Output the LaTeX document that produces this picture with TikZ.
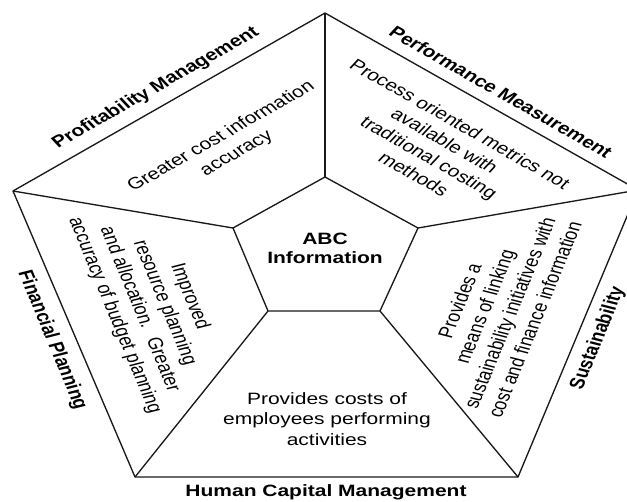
\documentclass[tikz,border=0pt]{standalone}
\usepackage{fontspec}
\setmainfont{Liberation Sans}
\begin{document}
\begin{tikzpicture}[x=0.75pt,y=-0.75pt,
  edge/.style={line width=1pt, line join=round, draw=black!90},
  txt/.style={font=\fontsize{12.3}{15.4}\selectfont, align=center, xscale=1.28, inner sep=0pt},
  lbl/.style={font=\fontsize{12.3}{15}\selectfont\bfseries, align=center, xscale=1.28, inner sep=0pt}]
\useasboundingbox (0,0) rectangle (627,502);
\clip (0,0) rectangle (627,502);
\fill[white] (0,0) rectangle (627,502);
% outer vertices
\coordinate (o1) at (325,13);
\coordinate (o2) at (638,190);
\coordinate (o3) at (518,477);
\coordinate (o4) at (135,477);
\coordinate (o5) at (13,191);
% inner vertices
\coordinate (i1) at (325,177);
\coordinate (i2) at (418,228);
\coordinate (i3) at (380,311);
\coordinate (i4) at (268,311);
\coordinate (i5) at (233,228);
\draw[edge] (o1) -- (o2) -- (o3) -- (o4) -- (o5) -- cycle;
\draw[edge] (i1) -- (i2) -- (i3) -- (i4) -- (i5) -- cycle;
\draw[edge] (i1) -- (o1);
\draw[edge] (i2) -- (o2);
\draw[edge] (i3) -- (o3);
\draw[edge] (i4) -- (o4);
\draw[edge] (i5) -- (o5);
% centre
\node[lbl, font=\fontsize{12.3}{14.3}\selectfont\bfseries] (abc) at (325,248) {ABC\\Information};
% outer labels
\node[lbl, rotate=36] (pm) at (156,88) {Profitability Management};
\node[lbl, rotate=-36] (perf) at (501,92) {Performance Measurement};
\node[lbl, rotate=-72] (fp) at (52,340) {Financial Planning};
\node[lbl, rotate=72] (sus) at (598,338) {Sustainability};
\node[lbl] (hcm) at (326,492) {Human Capital Management};
% inner texts
\node[txt, rotate=36] (t1) at (229,145) {Greater cost information\\accuracy};
\node[txt, rotate=-36] (t2) at (437,149) {Process oriented metrics not\\available with\\traditional costing\\methods};
\node[txt, rotate=72] (t3) at (497,310) {Provides a\\means of linking\\sustainability initiatives with\\cost and finance information};
\node[txt, rotate=-72] (t4) at (152,306) {Improved\\resource planning\\and allocation.~ Greater\\accuracy of budget planning};
\node[txt] (t5) at (327,419) {Provides costs of\\employees performing\\activities};
\end{tikzpicture}
\end{document}
